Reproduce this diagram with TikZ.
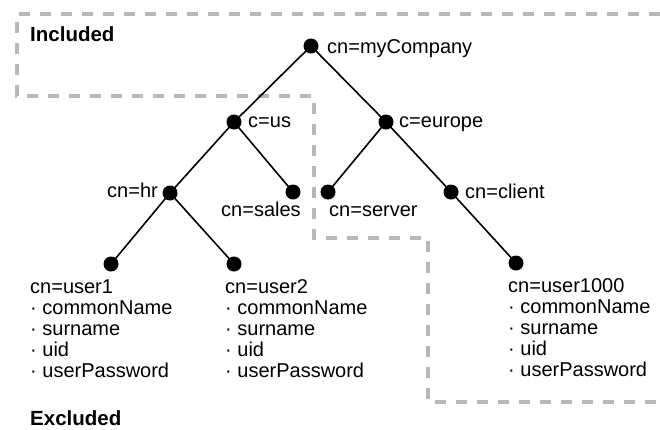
\documentclass[tikz,border=0pt]{standalone}
\usepackage{fontspec}
\setmainfont{Liberation Sans}
\begin{document}
\begin{tikzpicture}[x=1pt,y=-1pt,
  dot/.style={circle,fill=black,inner sep=0pt,minimum size=15pt},
  edge/.style={line width=1.6pt,black},
  lbl/.style={inner sep=0pt,font=\fontsize{20}{21}\selectfont},
  blk/.style={inner sep=0pt,align=left,font=\fontsize{20}{21}\selectfont},
  ttl/.style={inner sep=0pt,font=\fontsize{20.5}{22}\selectfont\bfseries},
  region/.style={line width=4pt,draw=black!28,dash pattern=on 11pt off 10pt}]
\useasboundingbox (0,0) rectangle (660,429);
% region boundary
\draw[region] (660,14) -- (17,14) -- (17,96) -- (314,96) -- (314,238) -- (428,238) -- (428,402) -- (660,402);
% dots
\node[dot] (comp) at (311,46) {};
\node[dot] (us) at (234,122) {};
\node[dot] (eu) at (386,122) {};
\node[dot] (hr) at (170,193) {};
\node[dot] (sales) at (293,192) {};
\node[dot] (server) at (328,192) {};
\node[dot] (client) at (451,192) {};
\node[dot] (u1) at (111,264) {};
\node[dot] (u2) at (234,264) {};
\node[dot] (u1000) at (516,263) {};
% edges
\draw[edge] (comp.center) -- (us.center);
\draw[edge] (comp.center) -- (eu.center);
\draw[edge] (us.center) -- (hr.center);
\draw[edge] (us.center) -- (sales.center);
\draw[edge] (eu.center) -- (server.center);
\draw[edge] (eu.center) -- (client.center);
\draw[edge] (hr.center) -- (u1.center);
\draw[edge] (hr.center) -- (u2.center);
\draw[edge] (client.center) -- (u1000.center);
% labels
\node[lbl,anchor=base west] (lcomp) at (327,53) {cn=myCompany};
\node[lbl,anchor=base west] (lus) at (248,127) {c=us};
\node[lbl,anchor=base west] (leu) at (399,127) {c=europe};
\node[lbl,anchor=base east] (lhr) at (158,197) {cn=hr};
\node[lbl,anchor=base west] (lsales) at (221,216) {cn=sales};
\node[lbl,anchor=base west] (lserver) at (329,216) {cn=server};
\node[lbl,anchor=base west] (lclient) at (465,198) {cn=client};
\node[blk,anchor=base west] (b1) at (30,377) {cn=user1\\· commonName\\· surname\\· uid\\· userPassword};
\node[blk,anchor=base west] (b2) at (225,377) {cn=user2\\· commonName\\· surname\\· uid\\· userPassword};
\node[blk,anchor=base west] (b3) at (508,376) {cn=user1000\\· commonName\\· surname\\· uid\\· userPassword};
\node[ttl,anchor=base west] (inc) at (30,41) {Included};
\node[ttl,anchor=base west] (exc) at (30,425) {Excluded};
\end{tikzpicture}
\end{document}
